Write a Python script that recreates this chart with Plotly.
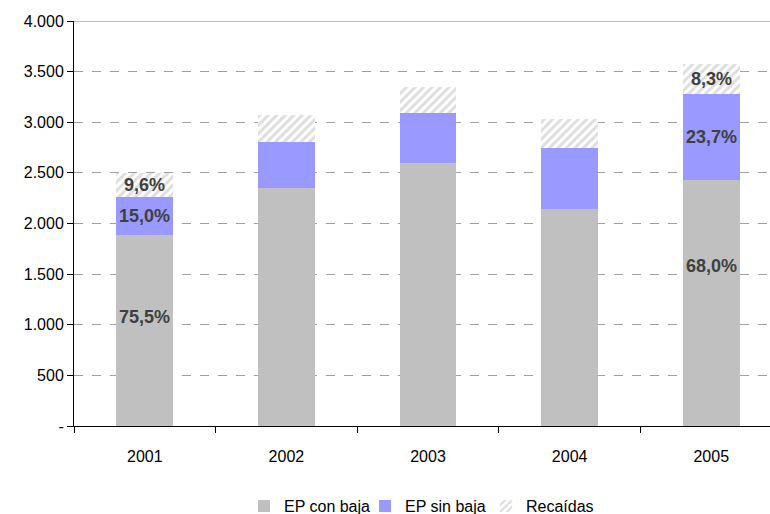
import plotly.graph_objects as go

# Occupational illnesses by year, split by type
years = ["2001", "2002", "2003", "2004", "2005"]
ep_con_baja = [1887, 2351, 2598, 2143, 2434]
ep_sin_baja = [374, 454, 493, 603, 849]
recaidas = [239, 267, 257, 286, 297]
labelled_years = ["2001", "2005"]

y_tickvals = [0, 500, 1000, 1500, 2000, 2500, 3000, 3500, 4000]
y_ticktext = ["-", "500", "1.000", "1.500", "2.000", "2.500", "3.000", "3.500", "4.000"]

FONT = "Liberation Sans, Arial, sans-serif"
x = list(range(len(years)))

fig = go.Figure()
fig.add_trace(go.Bar(
    x=x, y=ep_con_baja, name="EP con baja", width=0.4,
    marker=dict(color="#C0C0C0", line=dict(width=0)),
))
fig.add_trace(go.Bar(
    x=x, y=ep_sin_baja, name="EP sin baja", width=0.4,
    marker=dict(color="#9999FF", line=dict(width=0)),
))
fig.add_trace(go.Bar(
    x=x, y=recaidas, name="Recaídas", width=0.4,
    marker=dict(color="white", line=dict(width=0),
                pattern=dict(shape="/", fgcolor="#BEBEBE", bgcolor="white",
                             size=6, solidity=0.5)),
))

def pct(v, total):
    return f"{v / total * 100:.1f}".replace(".", ",") + "%"

# percentage labels on the first and last year; the bottom label sits a bit
# above the segment centre
gray_label_frac = {"2001": 0.57, "2005": 0.65}
for yr in labelled_years:
    i = years.index(yr)
    a, b, c = ep_con_baja[i], ep_sin_baja[i], recaidas[i]
    total = a + b + c
    for val, ypos in [
        (a, a * gray_label_frac[yr]),
        (b, a + b / 2),
        (c, a + b + c / 2),
    ]:
        fig.add_annotation(
            x=i, y=ypos, text=pct(val, total), showarrow=False,
            font=dict(family=FONT, size=18, color="#404040", weight="bold"),
        )

# solid line at the top of the value range
fig.add_shape(type="line", xref="paper", yref="y", x0=0, x1=1, y0=4000, y1=4000,
              line=dict(color="#808080", width=1))

fig.update_layout(
    barmode="stack",
    width=770, height=514,
    margin=dict(l=74, r=0, t=21, b=88, autoexpand=False),
    paper_bgcolor="white", plot_bgcolor="white",
    font=dict(family=FONT, size=16, color="black"),
    showlegend=True,
    legend=dict(orientation="h", x=0.505, xanchor="center", y=-0.198, yanchor="middle",
                font=dict(family=FONT, size=16), traceorder="normal",
                itemwidth=30, entrywidth=76, tracegroupgap=0),
    xaxis=dict(
        range=[-0.5, 4.415], tickvals=x, ticktext=years, ticks="",
        ticklabelstandoff=16,
        showline=True, linecolor="black", linewidth=1, showgrid=False, zeroline=False,
        tickfont=dict(family=FONT, size=16),
        minor=dict(tickvals=[-0.5, 0.5, 1.5, 2.5, 3.5, 4.5], ticks="outside",
                   ticklen=6, tickcolor="black", showgrid=False),
        fixedrange=True,
    ),
    yaxis=dict(
        range=[0, 4000], tickvals=y_tickvals, ticktext=y_ticktext,
        ticks="outside", ticklen=6, tickcolor="black",
        showline=True, linecolor="black", linewidth=1,
        showgrid=True, gridcolor="#A0A0A0", griddash="dash", gridwidth=1,
        zeroline=False, tickfont=dict(family=FONT, size=16),
        fixedrange=True,
    ),
)

fig.write_html("out.html")
